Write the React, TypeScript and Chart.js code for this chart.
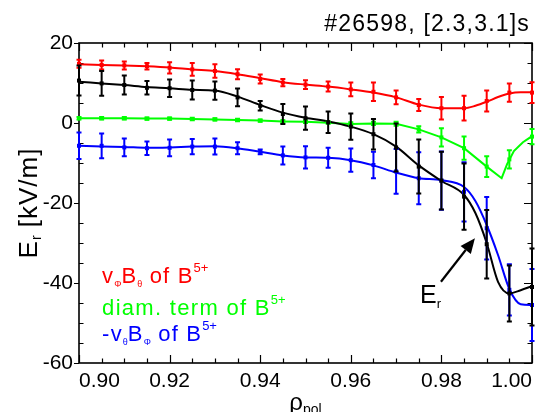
import React, { useEffect, useRef } from "react";
import { Chart, registerables } from "chart.js";
Chart.register(...registerables);

// ---- data ----
const rho = [0.9, 0.905, 0.91, 0.915, 0.92, 0.925, 0.93, 0.935, 0.94, 0.945, 0.95, 0.955, 0.96, 0.965, 0.97, 0.975, 0.98, 0.985, 0.99, 0.995, 1.0];

const redVal = [14.8, 14.5, 14.4, 14.2, 13.8, 13.4, 13.0, 12.2, 11.0, 10.1, 9.6, 9.1, 8.4, 7.8, 6.4, 4.5, 3.7, 3.7, 5.5, 7.6, 7.6];
const redErr = [1.0, 1.1, 1.0, 0.8, 1.4, 1.6, 1.7, 1.25, 1.1, 0.9, 1.1, 1.25, 1.7, 2.3, 1.7, 1.5, 2.8, 3.1, 2.6, 2.3, 2.6];

const blackVal = [10.6, 9.9, 9.5, 8.8, 8.7, 8.25, 8.1, 6.4, 4.3, 2.25, 1.2, 0.2, -0.9, -2.8, -6.1, -10.9, -14.4, -18.4, -30.3, -42.6, -41.0];
const blackErr = [3.75, 3.1, 2.4, 1.7, 2.2, 2.4, 2.3, 2.2, 1.2, 2.5, 2.9, 2.7, 3.3, 3.8, 6.0, 6.75, 7.2, 8.3, 8.55, 7.0, 9.6];

const greenVal = [1.2, 1.2, 1.2, 1.1, 1.1, 1.0, 0.9, 0.75, 0.6, 0.4, 0.3, 0.1, -0.2, -0.1, -0.2, -1.6, -3.6, -6.3, -10.9, -9.1, -3.4];
const greenErr = [0.3, 0.3, 0.3, 0.3, 0.3, 0.3, 0.3, 0.3, 0.3, 0.3, 0.3, 0.3, 0.4, 0.4, 0.5, 0.8, 2.3, 2.9, 2.6, 2.3, 1.9];

const blueVal = [-5.7, -5.7, -6.1, -6.3, -6.2, -5.9, -5.9, -6.3, -7.2, -8.1, -8.6, -8.7, -9.3, -10.5, -12.1, -13.8, -14.4, -17.2, -26.3, -41.7, -45.5];
const blueErr = [3.3, 3.1, 2.2, 1.7, 2.1, 1.9, 2.0, 1.5, 0.6, 2.25, 2.8, 2.5, 2.9, 3.3, 5.6, 6.5, 7.3, 7.4, 7.8, 6.4, 9.0];

// smooth profile curves
const rhoFit = [0.9, 0.905, 0.91, 0.915, 0.92, 0.925, 0.93, 0.935, 0.94, 0.945, 0.95, 0.955, 0.96, 0.965, 0.97, 0.975, 0.98, 0.985, 0.9875, 0.99, 0.9925, 0.995, 0.9975, 1.0];
const redFit = [14.7, 14.5, 14.4, 14.2, 13.9, 13.4, 13.0, 12.2, 11.2, 10.2, 9.6, 9.1, 8.4, 7.6, 6.4, 4.6, 3.7, 3.7, 4.3, 5.3, 6.5, 7.4, 7.7, 7.7];
const blackFit = [10.3, 9.9, 9.5, 9.0, 8.7, 8.3, 8.1, 6.6, 4.5, 2.6, 1.3, 0.4, -0.9, -2.8, -5.9, -10.6, -14.5, -18.0, -22.5, -30.0, -39.7, -42.6, -41.8, -40.8];
const blueFit = [-5.7, -5.9, -6.0, -6.2, -6.1, -5.9, -5.8, -6.3, -7.2, -8.1, -8.6, -8.7, -9.3, -10.6, -12.4, -13.8, -14.3, -16.0, -19.5, -25.5, -33.0, -41.5, -45.3, -45.5];
const rhoGreenFit = [0.9, 0.905, 0.91, 0.915, 0.92, 0.925, 0.93, 0.935, 0.94, 0.945, 0.95, 0.955, 0.96, 0.965, 0.97, 0.975, 0.98, 0.985, 0.99, 0.9933, 0.9945, 0.996, 0.998, 1.0];
const greenFit = [1.2, 1.2, 1.2, 1.1, 1.1, 1.0, 0.9, 0.75, 0.6, 0.4, 0.3, 0.05, -0.25, -0.1, -0.2, -1.6, -3.6, -6.3, -10.9, -13.8, -10.3, -7.0, -4.8, -3.3];

const xTickValues = [0.9, 0.92, 0.94, 0.96, 0.98, 1.0];
const yTickValues = [-60, -40, -20, 0, 20];

const RED = "#ff0000";
const GREEN = "#00ff00";
const BLUE = "#0000ff";
const BLACK = "#000000";
const FONT = '"Liberation Sans", Arial, Helvetica, sans-serif';

type Part = { t: string; s: number; dy?: number };

function drawRich(ctx: CanvasRenderingContext2D, x: number, y: number, parts: Part[], color: string, ls: number) {
  ctx.fillStyle = color;
  ctx.textAlign = "left";
  ctx.textBaseline = "alphabetic";
  let cx = x;
  for (const p of parts) {
    ctx.font = `${p.s}px ${FONT}`;
    (ctx as any).letterSpacing = p.s >= 18 ? `${ls}px` : "0px";
    ctx.fillText(p.t, cx, y + (p.dy || 0));
    cx += ctx.measureText(p.t).width;
  }
  (ctx as any).letterSpacing = "0px";
  return cx - x;
}
function richWidth(ctx: CanvasRenderingContext2D, parts: Part[], ls: number) {
  let w = 0;
  for (const p of parts) {
    ctx.font = `${p.s}px ${FONT}`;
    (ctx as any).letterSpacing = p.s >= 18 ? `${ls}px` : "0px";
    w += ctx.measureText(p.t).width;
  }
  (ctx as any).letterSpacing = "0px";
  return w;
}

const framePlugin = {
  id: "frame",
  beforeDatasetsDraw(chart: any) {
    const { ctx, chartArea: a, scales } = chart;
    const x = scales.x, y = scales.y;
    ctx.save();
    ctx.strokeStyle = BLACK;
    ctx.lineWidth = 1.2;
    ctx.beginPath();
    for (let i = 0; i <= 20; i++) {
      const px = Math.round(x.getPixelForValue(0.9 + i * 0.005)) + 0.5;
      const L = i % 4 === 0 ? 8 : 4.5;
      ctx.moveTo(px, a.bottom); ctx.lineTo(px, a.bottom - L);
      ctx.moveTo(px, a.top); ctx.lineTo(px, a.top + L);
    }
    for (let i = 0; i <= 16; i++) {
      const py = Math.round(y.getPixelForValue(-60 + i * 5)) + 0.5;
      const major = i % 4 === 0;
      if (major) { ctx.moveTo(a.left - 5, py); ctx.lineTo(a.left, py); }
      else { ctx.moveTo(a.left, py); ctx.lineTo(a.left + 4.5, py); }
      ctx.moveTo(a.right, py); ctx.lineTo(a.right - (major ? 8 : 4.5), py);
    }
    ctx.stroke();
    ctx.lineWidth = 1.6;
    ctx.strokeRect(a.left, a.top, a.right - a.left, a.bottom - a.top);
    ctx.restore();
  },
  afterDraw(chart: any) {
    const { ctx, chartArea: a, scales } = chart;
    const x = scales.x, y = scales.y;
    ctx.save();
    // title
    const title: Part[] = [{ t: "#26598, [2.3,3.1]s", s: 23 }];
    const tw = richWidth(ctx, title, 1.2);
    drawRich(ctx, a.right - 2 - tw, 31, title, BLACK, 1.2);

    // y-axis title (rotated)
    const yt: Part[] = [{ t: "E", s: 26 }, { t: "r", s: 14, dy: 4 }, { t: " [kV/m]", s: 26 }];
    const yw = richWidth(ctx, yt, 1);
    ctx.save();
    ctx.translate(37, (a.top + a.bottom) / 2);
    ctx.rotate(-Math.PI / 2);
    drawRich(ctx, -yw / 2, 0, yt, BLACK, 1);
    ctx.restore();

    // x-axis title
    const xt: Part[] = [{ t: "ρ", s: 24 }, { t: "pol", s: 14, dy: 4 }];
    const xw = richWidth(ctx, xt, 0);
    drawRich(ctx, (a.left + a.right) / 2 - xw / 2, 410, xt, BLACK, 0);

    // legend annotations
    const lx = x.getPixelForValue(0.9051);
    drawRich(ctx, lx, y.getPixelForValue(-40), [
      { t: "v", s: 22 }, { t: "Φ", s: 9, dy: 4 }, { t: "B", s: 22 }, { t: "θ", s: 9, dy: 4 },
      { t: " of B", s: 22 }, { t: "5+", s: 13, dy: -11 },
    ], RED, 1.2);
    drawRich(ctx, lx, y.getPixelForValue(-48), [
      { t: "diam. term of B", s: 22 }, { t: "5+", s: 13, dy: -11 },
    ], GREEN, 1.3);
    drawRich(ctx, lx, y.getPixelForValue(-54.4), [
      { t: "-v", s: 22 }, { t: "θ", s: 9, dy: 4 }, { t: "B", s: 22 }, { t: "Φ", s: 9, dy: 4 },
      { t: " of B", s: 22 }, { t: "5+", s: 13, dy: -11 },
    ], BLUE, 1.2);

    // E_r annotation with arrow
    drawRich(ctx, x.getPixelForValue(0.9753), y.getPixelForValue(-45), [
      { t: "E", s: 25 }, { t: "r", s: 13, dy: 5 },
    ], BLACK, 0);
    const x0 = x.getPixelForValue(0.9799), y0 = y.getPixelForValue(-39.7);
    const x1 = x.getPixelForValue(0.9874), y1 = y.getPixelForValue(-28.8);
    const ang = Math.atan2(y1 - y0, x1 - x0);
    const hl = 15, hw = 6.5;
    const bx = x1 - hl * Math.cos(ang), by = y1 - hl * Math.sin(ang);
    ctx.strokeStyle = BLACK; ctx.fillStyle = BLACK; ctx.lineWidth = 2.2;
    ctx.beginPath(); ctx.moveTo(x0, y0); ctx.lineTo(bx, by); ctx.stroke();
    ctx.beginPath();
    ctx.moveTo(x1, y1);
    ctx.lineTo(bx + hw * Math.sin(ang), by - hw * Math.cos(ang));
    ctx.lineTo(bx - hw * Math.sin(ang), by + hw * Math.cos(ang));
    ctx.closePath(); ctx.fill();
    ctx.restore();
  },
};

const errorBarPlugin = {
  id: "errorBars",
  afterDatasetsDraw(chart: any) {
    const { ctx, scales } = chart;
    const y = scales.y;
    ctx.save();
    const order = ["red", "green", "blue", "black"];
    for (const key of order) {
      chart.data.datasets.forEach((ds: any, i: number) => {
        if (!ds.errors || ds.key !== key) return;
        const meta = chart.getDatasetMeta(i);
        ctx.strokeStyle = ds.borderColor;
        ctx.fillStyle = ds.borderColor;
        ctx.lineWidth = 2;
        meta.data.forEach((pt: any, j: number) => {
          const v = ds.data[j].y, e = ds.errors[j];
          const top = y.getPixelForValue(v + e), bot = y.getPixelForValue(v - e);
          ctx.beginPath();
          ctx.moveTo(pt.x, top); ctx.lineTo(pt.x, bot);
          ctx.moveTo(pt.x - 2.5, top); ctx.lineTo(pt.x + 2.5, top);
          ctx.moveTo(pt.x - 2.5, bot); ctx.lineTo(pt.x + 2.5, bot);
          ctx.stroke();
          ctx.fillRect(pt.x - 2, pt.y - 2, 4, 4);
        });
      });
    }
    ctx.restore();
  },
};

const pts = (xs: number[], ys: number[]) => xs.map((v, i) => ({ x: v, y: ys[i] }));

export default function App() {
  const ref = useRef<HTMLCanvasElement | null>(null);
  useEffect(() => {
    if (!ref.current) return;
    const lineDs = (data: any, color: string, mono: boolean) => ({
      type: "scatter", data, borderColor: color, backgroundColor: color, showLine: true,
      borderWidth: 2, pointRadius: 0, tension: mono ? 0.4 : 0,
      cubicInterpolationMode: mono ? "monotone" : "default",
    });
    const errDs = (data: any, errors: number[], color: string, key: string) => ({
      type: "scatter", data, errors, key, borderColor: color, backgroundColor: color,
      showLine: false, pointRadius: 0,
    });
    const chart = new Chart(ref.current, {
      type: "scatter",
      data: {
        datasets: [
          lineDs(pts(rhoFit, blackFit), BLACK, true),
          lineDs(pts(rhoFit, blueFit), BLUE, true),
          lineDs(pts(rhoGreenFit, greenFit), GREEN, false),
          lineDs(pts(rhoFit, redFit), RED, true),
          errDs(pts(rho, redVal), redErr, RED, "red"),
          errDs(pts(rho, greenVal), greenErr, GREEN, "green"),
          errDs(pts(rho, blueVal), blueErr, BLUE, "blue"),
          errDs(pts(rho, blackVal), blackErr, BLACK, "black"),
        ] as any,
      },
      options: {
        animation: false,
        responsive: false,
        devicePixelRatio: 1,
        layout: { padding: { left: 0, right: 12, top: 43, bottom: 0 } },
        plugins: { legend: { display: false }, tooltip: { enabled: false }, title: { display: false } },
        scales: {
          x: {
            type: "linear", min: 0.9, max: 1.0,
            afterBuildTicks: (s: any) => { s.ticks = xTickValues.map((v) => ({ value: v })); },
            afterFit: (s: any) => { s.height = 49; },
            ticks: {
              callback: (v: any) => Number(v).toFixed(2), align: "inner", padding: 6,
              color: BLACK, font: { family: FONT, size: 21 }, maxRotation: 0, autoSkip: false,
            },
            grid: { display: false, drawTicks: false },
            border: { display: false },
          },
          y: {
            type: "linear", min: -60, max: 20,
            afterBuildTicks: (s: any) => { s.ticks = yTickValues.map((v) => ({ value: v })); },
            afterFit: (s: any) => { s.width = 79; },
            ticks: { padding: 6, color: BLACK, font: { family: FONT, size: 21 }, autoSkip: false },
            grid: { display: false, drawTicks: false },
            border: { display: false },
          },
        },
      } as any,
      plugins: [framePlugin, errorBarPlugin],
    });
    return () => chart.destroy();
  }, []);
  return (
    <div style={{ position: "fixed", left: 0, top: 0, width: 544, height: 412, background: "#fff" }}>
      <canvas ref={ref} width={544} height={412} style={{ width: 544, height: 412, display: "block" }} />
    </div>
  );
}
